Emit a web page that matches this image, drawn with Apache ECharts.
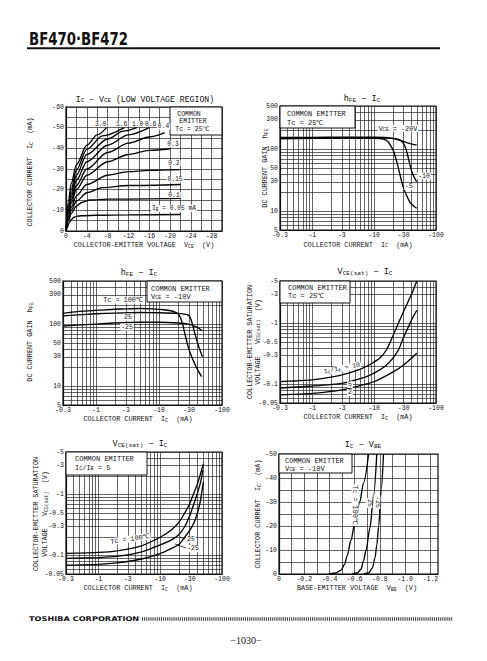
<!DOCTYPE html>
<html><head><meta charset="utf-8">
<script src="https://cdn.jsdelivr.net/npm/echarts@6/dist/echarts.min.js"></script>
<style>html,body{margin:0;padding:0;background:#fff}#c{width:487px;height:661px}</style>
</head><body><div id="c"></div>
<script>
// ================= DATA (magnitudes; device is PNP, axes are labelled negative) =================
// Chart 1: IC - VCE (low voltage region). x = |VCE| (V), y = |IC| (mA), one curve per IB (mA)
const c1Labels = ['3.0','1.6','1.0','0.6','0.4','0.3','0.2','0.15','0.1','0.05'];
const c1_IB3_0  = [[0,0],[0.5,15],[1,23],[2,32],[4,41.5],[6,46.5],[7.8,50]];
const c1_IB1_6  = [[0,0],[0.5,12.5],[1,20],[2,29.5],[4,39.5],[7,46],[11.2,50]];
const c1_IB1_0  = [[0,0],[0.5,11],[1,18],[2,27],[4,37],[8,44.5],[11,48.3],[13.6,50]];
const c1_IB0_6  = [[0,0],[0.5,10],[1,16.5],[2,24.5],[4,33.5],[8,41.5],[12,46.5],[16,50]];
const c1_IB0_4  = [[0,0],[0.5,9],[1,15],[2,22],[4,30],[8,38],[12,42.5],[16,45.5],[19,47.6]];
const c1_IB0_3  = [[0,0],[0.5,8],[1,13.5],[2,20],[4,27],[8,33.5],[12,37],[16,39],[20,39.8]];
const c1_IB0_2  = [[0,0],[0.5,7],[1,11.5],[2,17],[4,22.5],[8,27],[12,28.7],[16,29.3],[22,29.7]];
const c1_IB0_15 = [[0,0],[0.5,6],[1,10],[2,14.5],[4,18.5],[7,21],[12,22],[22,22.5]];
const c1_IB0_1  = [[0,0],[0.5,5],[1,8.5],[2,12],[3,13.8],[4.6,15],[8,15.4],[22,15.8]];
const c1_IB0_05 = [[0,0],[0.3,2],[0.6,4],[1,5.5],[1.5,6.6],[2,7.1],[3,7.4],[6,7.6],[12,7.8],[22,8]];
const c1XTickVals = [0,4,8,12,16,20,24,28];
const c1XTickText = ['0','-4','-8','-12','-16','-20','-24','-28'];
const c1YTickVals = [0,10,20,30,40,50,60];
const c1YTickText = ['0','-10','-20','-30','-40','-50','-60'];

// Chart 2: hFE - IC (Tc=25C). x = |IC| (mA), y = hFE, one curve per VCE (V)
const c2Labels = ['-20','-10','-5'];
const c2_VCE20 = [[0.3,155],[1,156],[3,157],[10,157],[15,155],[20,150],[25,141],[30,133],[38,124],[48.6,117]];
const c2_VCE10 = [[0.3,150],[1,152],[3,153],[10,153],[20,150],[25,145],[28,135],[31,115],[34,88],[37,62],[40,46],[44,36],[48.6,30]];
const c2_VCE5  = [[0.3,148],[1,150],[3,151],[10,150],[14,146],[16.5,135],[18.5,115],[20.5,94],[23,65],[26,40],[29,26],[33,18.5],[38,14],[43,12.3],[48.6,11.2]];
const logICTickVals = [0.3,1,3,10,30,100];
const logICTickText = ['-0.3','-1','-3','-10','-30','-100'];
const hfeTickVals = [5,10,30,50,100,300,500];
const hfeTickText = ['5','10','30','50','100','300','500'];

// Chart 3: hFE - IC (VCE=-10V). one curve per Tc (C)
const c3Labels = ['100','25','-25'];
const c3_T100 = [[0.3,150],[0.5,160],[1,168],[2,175],[3,178],[5,180],[8,178],[12,172],[16,164],[18,158],[20,148],[22,128],[24,96],[26,68],[29,44],[33,30],[40,19.5],[47.5,14.3]];
const c3_T25  = [[0.3,137],[0.5,142],[1,148],[2,152],[5,155],[10,154],[20,150],[27,145],[30,138],[32,122],[34,100],[36,80],[39.5,57],[44,40],[49,30]];
const c3_Tm25 = [[0.3,94],[0.5,97],[1,101],[2,105],[5,108],[10,108],[20,105],[30,100],[40,90],[49,78]];

// Chart 4: VCE(sat) - IC (Tc=25C). y = |VCE(sat)| (V), one curve per IC/IB
const c4Labels = ['10','5','2'];
const c4_R10 = [[0.3,0.112],[0.6,0.116],[1,0.12],[2,0.133],[3.6,0.152],[6,0.18],[9,0.22],[12.5,0.275],[16,0.38],[20,0.62],[25,1.05],[30,1.6],[40,3.0],[49,5]];
const c4_R5  = [[0.3,0.088],[1,0.095],[3,0.105],[6,0.125],[10,0.155],[15,0.2],[20,0.27],[25,0.38],[30,0.6],[36,0.9],[42,1.25],[49,1.66]];
const c4_R2  = [[0.3,0.068],[1,0.072],[3,0.082],[10,0.112],[20,0.16],[30,0.21],[40,0.27],[49,0.327]];
const vsatTickVals = [0.05,0.1,0.3,0.5,1,3,5];
const vsatTickText = ['-0.05','-0.1','-0.3','-0.5','-1','-3','-5'];

// Chart 5: VCE(sat) - IC (IC/IB=5). one curve per Tc (C)
const c5Labels = ['100','25','-25'];
const c5_T100 = [[0.3,0.109],[1,0.113],[2,0.12],[5,0.145],[10,0.2],[15,0.26],[20,0.35],[25,0.5],[30,0.71],[35,1.05],[40,1.5],[45,2.2],[50,3.2]];
const c5_T25  = [[0.3,0.09],[1,0.093],[2,0.097],[5,0.115],[10,0.15],[15,0.18],[20,0.22],[25,0.3],[30,0.45],[35,0.7],[40,1.05],[45,1.6],[49,2.5]];
const c5_Tm25 = [[0.3,0.07],[1,0.072],[2,0.076],[5,0.088],[10,0.108],[15,0.13],[20,0.152],[25,0.2],[30,0.26],[35,0.34],[40,0.5],[45,0.81],[50,1.6]];

// Chart 6: IC - VBE (VCE=-10V). x = |VBE| (V), y = |IC| (mA), one curve per Tc (C)
const c6Labels = ['100','25','-25'];
const c6_T100 = [[0.40,0],[0.45,0.4],[0.49,1.5],[0.52,4],[0.54,7.5],[0.57,14],[0.60,21],[0.64,30],[0.67,38],[0.71,50]];
const c6_T25  = [[0.58,0],[0.62,0.4],[0.65,2],[0.67,5.5],[0.69,10],[0.72,19],[0.75,33],[0.775,50]];
const c6_Tm25 = [[0.67,0],[0.71,0.4],[0.74,2.5],[0.76,6.5],[0.775,12],[0.79,20],[0.81,35],[0.828,50]];
const c6XTickVals = [0,0.2,0.4,0.6,0.8,1.0,1.2];
const c6XTickText = ['0','-0.2','-0.4','-0.6','-0.8','-1.0','-1.2'];
const c6YTickVals = [0,10,20,30,40,50];
const c6YTickText = ['0','-10','-20','-30','-40','-50'];

// ================= helpers =================
const FONT = '"Liberation Mono","DejaVu Sans Mono",monospace';
function r2(v){ return Math.round(v*1e6)/1e6; }
function linGrid(a,b,s){ const o=[]; for(let v=a; v<=b+1e-9; v+=s) o.push(r2(v)); return o; }
function logGrid(a,b){ const o=[]; for(let d=-3; d<=4; d++){ for(let m=1;m<=9;m++){ const v=r2(m*Math.pow(10,d)); if(v>=a-1e-9 && v<=b+1e-9) o.push(v);} } return o; }
function fmtFrom(vals, text){ return function(v){ for(let i=0;i<vals.length;i++){ const t=vals[i]; if(Math.abs(t-v) <= 1e-4*Math.max(Math.abs(t),1e-3)) return text[i]; } return ''; }; }
function axis(gi, type, min, max, tickVals, tickText, gridVals, isY){
  const a = {
    type, gridIndex: gi, min, max,
    axisLine:{show:true, onZero:false, lineStyle:{color:'#111', width:1.2}},
    axisTick:{show:false, customValues:gridVals},
    axisLabel:{show:true, customValues:tickVals, formatter:fmtFrom(tickVals,tickText), color:'#111',
      fontFamily:FONT, fontSize:6.5, margin:2, hideOverlap:false, showMinLabel:true, showMaxLabel:true},
    splitLine:{show:true, lineStyle:{color:'#222', width:0.7}},
    minorTick:{show:false}, minorSplitLine:{show:false}, z: 2
  };
  if(type==='log') a.logBase = 10;
  return a;
}
function line(gi, data, mono){
  const s = {type:'line', xAxisIndex:gi, yAxisIndex:gi, data, symbol:'none', showSymbol:false,
    smooth:mono?0.3:0.2, lineStyle:{color:'#000', width:1.35}, silent:true, clip:true, z:5, animation:false};
  if(mono) s.smoothMonotone='x';
  return s;
}
function richFor(size){ return { s:{fontSize:Math.max(4.5,size*0.72), fontFamily:FONT, fill:'#111', verticalAlign:'bottom', padding:[Math.round(size*0.35),0,0,0]} }; }
function T(x,y,text,o){
  o=o||{}; const size=o.size||7;
  const st = {text, fill:'#111', fontSize:size, fontFamily:o.family||FONT, fontWeight:o.weight||'normal',
    align:o.align||'center', verticalAlign:'middle', textAlign:o.align||'center', textVerticalAlign:'middle', rich:richFor(size)};
  if(o.bg){ st.backgroundColor=o.bg; st.padding=[0,1]; }
  return {type:'text', x, y, rotation:o.rot||0, scaleX:o.sx||1, z:100, silent:true, style:st};
}
function R(x,y,w,h){ return {type:'rect', shape:{x,y,width:w,height:h}, z:90, silent:true, style:{fill:'#fff', stroke:'#111', lineWidth:1}}; }
function L(x1,y1,x2,y2,w,o){ o=o||{}; return {type:'line', shape:{x1,y1,x2,y2}, z:95, silent:true, style:{stroke:o.c||'#111', lineWidth:w||1, lineDash:o.dash||null}}; }

const gridsPx = [
  {left:66, top:107, width:156, height:124},
  {left:280, top:106, width:156, height:124},
  {left:63, top:281, width:159, height:124},
  {left:280, top:281, width:156, height:122},
  {left:66, top:452, width:156, height:122},
  {left:279, top:454, width:159, height:120}
];
const grid = gridsPx.map(g => Object.assign({show:true, borderColor:'#111', borderWidth:1.2, backgroundColor:'rgba(0,0,0,0)', containLabel:false, outerBoundsMode:'none'}, g));

const xAxis = [
  axis(0,'value',0,30,c1XTickVals,c1XTickText,linGrid(0,30,2)),
  axis(1,'log',0.3,100,logICTickVals,logICTickText,logGrid(0.3,100)),
  axis(2,'log',0.3,100,logICTickVals,logICTickText,logGrid(0.3,100)),
  axis(3,'log',0.3,100,logICTickVals,logICTickText,logGrid(0.3,100)),
  axis(4,'log',0.3,100,logICTickVals,logICTickText,logGrid(0.3,100)),
  axis(5,'value',0,1.26,c6XTickVals,c6XTickText,linGrid(0,1.2,0.1))
];
const yAxis = [
  axis(0,'value',0,60,c1YTickVals,c1YTickText,linGrid(0,60,5),true),
  axis(1,'log',5,500,hfeTickVals,hfeTickText,logGrid(5,500),true),
  axis(2,'log',5,500,hfeTickVals,hfeTickText,logGrid(5,500),true),
  axis(3,'log',0.05,5,vsatTickVals,vsatTickText,logGrid(0.05,5),true),
  axis(4,'log',0.05,5,vsatTickVals,vsatTickText,logGrid(0.05,5),true),
  axis(5,'value',0,50,c6YTickVals,c6YTickText,linGrid(0,50,5),true)
];

const series = [
  line(0,c1_IB3_0,1),line(0,c1_IB1_6,1),line(0,c1_IB1_0,1),line(0,c1_IB0_6,1),line(0,c1_IB0_4,1),
  line(0,c1_IB0_3,1),line(0,c1_IB0_2,1),line(0,c1_IB0_15,1),line(0,c1_IB0_1,1),line(0,c1_IB0_05,1),
  line(1,c2_VCE20),line(1,c2_VCE10),line(1,c2_VCE5),
  line(2,c3_T100),line(2,c3_T25),line(2,c3_Tm25),
  line(3,c4_R10),line(3,c4_R5),line(3,c4_R2),
  line(4,c5_T100),line(4,c5_T25),line(4,c5_Tm25),
  line(5,c6_T100,1),line(5,c6_T25,1),line(5,c6_Tm25,1)
];

const V = Math.PI/2;
const graphic = [
  // header / footer
  T(29,39,'BF470·BF472',{size:17,weight:'bold',family:'"Liberation Sans Narrow","DejaVu Sans Condensed",sans-serif',align:'left',sx:0.87}),
  L(27,48.3,440,48.3,2),
  T(29,619,'TOSHIBA CORPORATION',{size:6.5,weight:'bold',family:'"DejaVu Sans",sans-serif',align:'left',sx:1.26}),
  L(142,619,453,619,3.5,{c:'#444',dash:[1.1,1]}),
  T(246,640,'−1030−',{size:10,family:'"Liberation Serif",serif'}),

  // chart 1
  T(145,99,'I{s|C} − V{s|CE} (LOW VOLTAGE REGION)',{size:8.2}),
  T(30,172,'COLLECTOR CURRENT  I{s|C}  (mA)',{size:6.8,rot:V}),
  T(144,245,'COLLECTOR-EMITTER VOLTAGE  V{s|CE}  (V)',{size:6.8}),
  R(170,107,52,28),
  T(189,114.5,'COMMON',{size:6.5}), T(193,121.5,'EMITTER',{size:6.5}), T(192,129.5,'Tc = 25℃',{size:6.5}),
  T(100.7,124,c1Labels[0],{size:6.3,bg:'#fff'}), T(121.7,124,c1Labels[1],{size:6.3,bg:'#fff'}),
  T(137.7,124,c1Labels[2],{size:6.3,bg:'#fff'}), T(150.7,124,c1Labels[3],{size:6.3,bg:'#fff'}),
  T(163.5,126.7,c1Labels[4],{size:6.3,bg:'#fff'}),
  T(173,144,c1Labels[5],{size:6.3,bg:'#fff'}), T(174,163,c1Labels[6],{size:6.3,bg:'#fff'}),
  T(175,179.5,c1Labels[7],{size:6.3,bg:'#fff'}), T(174,195,c1Labels[8],{size:6.3,bg:'#fff'}),
  T(174,208.5,'I{s|B} = '+c1Labels[9]+' mA',{size:6.3,bg:'#fff'}),

  // chart 2
  T(362,99,'h{s|FE} − I{s|C}',{size:8.5}),
  T(265,168,'DC CURRENT GAIN  h{s|FE}',{size:6.8,rot:V}),
  T(358,244.5,'COLLECTOR CURRENT  I{s|C}  (mA)',{size:6.8}),
  R(280,106,75,22),
  T(287,114.3,'COMMON EMITTER',{size:7,align:'left'}), T(287,123,'Tc = 25℃',{size:7,align:'left'}),
  T(398,128.5,'V{s|CE} = '+c2Labels[0]+'V',{size:6.8,bg:'#fff'}),
  T(424,176,c2Labels[1],{size:6.5,bg:'#fff'}), T(409,186.5,c2Labels[2],{size:6.5,bg:'#fff'}),

  // chart 3
  T(139,272.5,'h{s|FE} − I{s|C}',{size:8.5}),
  T(30,342,'DC CURRENT GAIN  h{s|FE}',{size:6.8,rot:V}),
  T(138,419,'COLLECTOR CURRENT  I{s|C}  (mA)',{size:6.8}),
  R(147,281,75,21),
  T(151,289,'COMMON EMITTER',{size:7,align:'left'}), T(151,297,'V{s|CE} = -10V',{size:7,align:'left'}),
  T(123,300,'Tc = '+c3Labels[0]+'℃',{size:6.8,bg:'#fff'}),
  T(128,317,c3Labels[1],{size:6.5,bg:'#fff'}), T(127,327,c3Labels[2],{size:6.5,bg:'#fff'}),

  // chart 4
  T(365,272,'V{s|CE(sat)} − I{s|C}',{size:8.5}),
  T(250,342,'COLLECTOR-EMITTER SATURATION',{size:6.8,rot:V}),
  T(257.5,342,'VOLTAGE   V{s|CE(sat)}  (V)',{size:6.8,rot:V}),
  T(358,417,'COLLECTOR CURRENT  I{s|C}  (mA)',{size:6.8}),
  R(280,281,70,22),
  T(288,287.5,'COMMON EMITTER',{size:7,align:'left'}), T(288,295.5,'Tc = 25℃',{size:7,align:'left'}),
  T(342,368.5,'I{s|C}/I{s|B} = '+c4Labels[0],{size:6.5,rot:0.2,bg:'#fff'}),
  T(350,384.5,c4Labels[1],{size:6.5,bg:'#fff'}), T(350,392.5,c4Labels[2],{size:6.5,bg:'#fff'}),

  // chart 5
  T(140,444,'V{s|CE(sat)} − I{s|C}',{size:8.5}),
  T(36,514,'COLLECTOR-EMITTER SATURATION',{size:6.8,rot:V}),
  T(45,514,'VOLTAGE   V{s|CE(sat)}  (V)',{size:6.8,rot:V}),
  T(138,588,'COLLECTOR CURRENT  I{s|C}  (mA)',{size:6.8}),
  R(66,452,81,23),
  T(75,458.5,'COMMON EMITTER',{size:7,align:'left'}), T(75,467.5,'I{s|C}/I{s|B} = 5',{size:7,align:'left'}),
  T(130,539,'Tc = '+c5Labels[0]+'℃',{size:6.8,rot:0.15,bg:'#fff'}),
  L(180,537,185,539,0.8), L(175,544,186,548,0.8),
  T(191,539.5,c5Labels[1],{size:6.5,bg:'#fff'}), T(193,548.5,c5Labels[2],{size:6.5,bg:'#fff'}),

  // chart 6
  T(363,445,'I{s|C} − V{s|BE}',{size:8.5}),
  T(258,514,'COLLECTOR CURRENT  I{s|C}  (mA)',{size:6.8,rot:V}),
  T(357,588,'BASE-EMITTER VOLTAGE  V{s|BE}  (V)',{size:6.8}),
  R(279,454,73,19),
  T(285,461,'COMMON EMITTER',{size:7,align:'left'}), T(285,469,'V{s|CE} = -10V',{size:7,align:'left'}),
  T(355,505,'Tc = '+c6Labels[0]+'℃',{size:6.8,rot:-V,bg:'#fff'}),
  T(369,503,c6Labels[1],{size:6.5,rot:-V,bg:'#fff'}), T(377,502,c6Labels[2],{size:6.5,rot:-V,bg:'#fff'})
];

const chart = echarts.init(document.getElementById('c'), null, {renderer:'svg', width:487, height:661});
chart.setOption({animation:false, backgroundColor:'#fff', grid, xAxis, yAxis, series, graphic});
</script></body></html>
